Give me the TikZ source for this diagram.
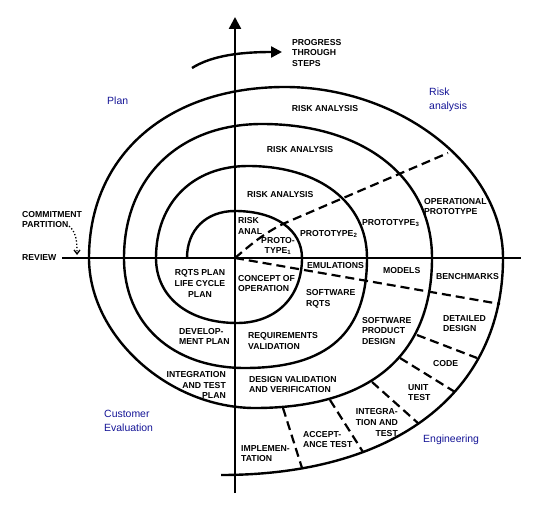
\documentclass[tikz,border=0pt]{standalone}
\usepackage{fontspec}
\usepackage{tikz}
\usetikzlibrary{arrows.meta,positioning}
\newfontfamily\diagfont{Liberation Sans}
\definecolor{quadblue}{RGB}{20,20,150}
\tikzset{spiral/.style={line width=2.4bp,line join=round},
	axisline/.style={line width=2.4bp},
	phase/.style={line width=2.2bp,dash pattern=on 9bp off 5bp},
	stage/.style={font=\diagfont\bfseries\fontsize{8.7}{10.8}\selectfont,inner sep=0pt},
	quad/.style={font=\diagfont\fontsize{10.5}{14}\selectfont,text=quadblue,inner sep=0pt,align=left}}

\begin{document}
\begin{tikzpicture}[x=1bp,y=-1bp]
	\useasboundingbox (0,0) rectangle (541,514);
	\coordinate (O) at (235,258);

	% axes
	\draw[axisline] (62,258) -- (521,258);
	\draw[axisline,-{Triangle[length=12bp,width=12bp]}] (235,493) -- (235,17);
	\draw[axisline,-{Triangle[length=11bp,width=11bp]}] (192,68) .. controls (208,58) and (232,52) .. (282,52);

	% spiral
	\draw[spiral] (187,258)
		.. controls (187,229.8) and (206.2,211) .. (235,211)
		.. controls (275.2,211) and (302,229.8) .. (302,258)
		.. controls (302,297) and (276,323) .. (237,323)
		.. controls (188.4,323) and (156,297) .. (156,258)
		.. controls (156,202.8) and (192.8,166) .. (248,166)
		.. controls (319.4,166) and (367,202.8) .. (367,258)
		.. controls (367,332.8) and (328,368) .. (245,368)
		.. controls (172.4,368) and (124,324) .. (124,258)
		.. controls (124,177.6) and (179.2,124) .. (262,124)
		.. controls (364,124) and (432,177.6) .. (432,258)
		.. controls (432,355.5) and (370,408) .. (255,408)
		.. controls (168.7,408) and (89,336) .. (89,258)
		.. controls (89,155.4) and (167.4,87) .. (285,87)
		.. controls (400.5,87) and (503,167.4) .. (503,258)
		.. controls (503,392.5) and (395.8,475) .. (221,475);

	% phase boundaries
	\draw[phase] (O) .. controls (256,240) and (270,229) .. (292,220) -- (448,153);
	\draw[phase] (O) -- (500,304);
	\draw[phase] (417,335) -- (477,358);
	\draw[phase] (400,358) -- (455,392);
	\draw[phase] (372,382) -- (419,424);
	\draw[phase] (330,400) -- (363,452);
	\draw[phase] (283,408) -- (302,468);

	\node [stage] (ra1) at (325,109) {RISK ANALYSIS};
	\node [stage] (ra2) at (300,150) {RISK ANALYSIS};
	\node [stage, anchor=west] (ra3) at (247,195) {RISK ANALYSIS};
	\node [stage, anchor=west, align=left] (ranal) at (238,226) {RISK\\ANAL};
	\node [stage, align=center] (proto1) at (278,246) {PROTO-\\TYPE\textsubscript{1}};
	\node [stage, anchor=west] (proto2) at (300,234) {PROTOTYPE\textsubscript{2}};
	\node [stage, anchor=west] (proto3) at (362,223) {PROTOTYPE\textsubscript{3}};
	\node [stage, anchor=west, align=left] (opproto) at (424,206.5) {OPERATIONAL\\PROTOTYPE};

	\node [stage, anchor=west] (emul) at (307,266) {EMULATIONS};
	\node [stage, anchor=west] (models) at (383,271) {MODELS};
	\node [stage, anchor=west] (bench) at (436,277) {BENCHMARKS};
	\node [stage, anchor=west, align=left] (concept) at (238,283.5) {CONCEPT OF\\OPERATION};
	\node [stage, anchor=west, align=left] (swrqts) at (306,298.5) {SOFTWARE\\RQTS};
	\node [stage, align=center] (rqtsplan) at (200,283.5) {RQTS PLAN\\LIFE CYCLE\\PLAN};
	\node [stage, anchor=west, align=left] (devplan) at (179,336.5) {DEVELOP-\\MENT PLAN};
	\node [stage, anchor=west, align=left] (reqval) at (248,341) {REQUIREMENTS\\VALIDATION};
	\node [stage, anchor=west, align=left] (swdesign) at (362,331) {SOFTWARE\\PRODUCT\\DESIGN};
	\node [stage, anchor=west, align=left] (detdesign) at (443,323.5) {DETAILED\\DESIGN};
	\node [stage, anchor=west] (code) at (433,364) {CODE};
	\node [stage, anchor=west, align=left] (unittest) at (408,392.5) {UNIT\\TEST};
	\node [stage, anchor=east, align=right] (itplan) at (226,385) {INTEGRATION\\AND TEST\\PLAN};
	\node [stage, anchor=west, align=left] (desval) at (249,384.5) {DESIGN VALIDATION\\AND VERIFICATION};
	\node [stage, anchor=east, align=right] (inttest) at (398,422.5) {INTEGRA-\\TION AND\\TEST};
	\node [stage, anchor=west, align=left] (accept) at (303,439.5) {ACCEPT-\\ANCE TEST};
	\node [stage, anchor=west, align=left] (implem) at (241,453.5) {IMPLEMEN-\\TATION};

	\node [stage, anchor=west, align=left] (progress) at (292,53) {PROGRESS\\THROUGH\\STEPS};
	\node [stage, anchor=west, align=left] (commit) at (22,219.5) {COMMITMENT\\PARTITION};
	\node [stage, anchor=west] (review) at (22,258) {REVIEW};
	\coordinate (commitend) at (69,226);
	\coordinate (reviewpt) at (77,255);
	\draw[line width=1.3bp, dotted, -{Straight Barb[length=4bp,width=6bp]}] (commitend) .. controls (76,232) and (77,240) .. (reviewpt);

	% quadrants
	\node [quad, anchor=base west] (plan) at (107,105) {Plan};
	\node [quad, anchor=north west] (risk) at (429,88) {Risk\\analysis};
	\node [quad, anchor=north west] (customer) at (104,410) {Customer\\Evaluation};
	\node [quad, anchor=base west] (engin) at (423,442) {Engineering};
\end{tikzpicture}
\end{document}
